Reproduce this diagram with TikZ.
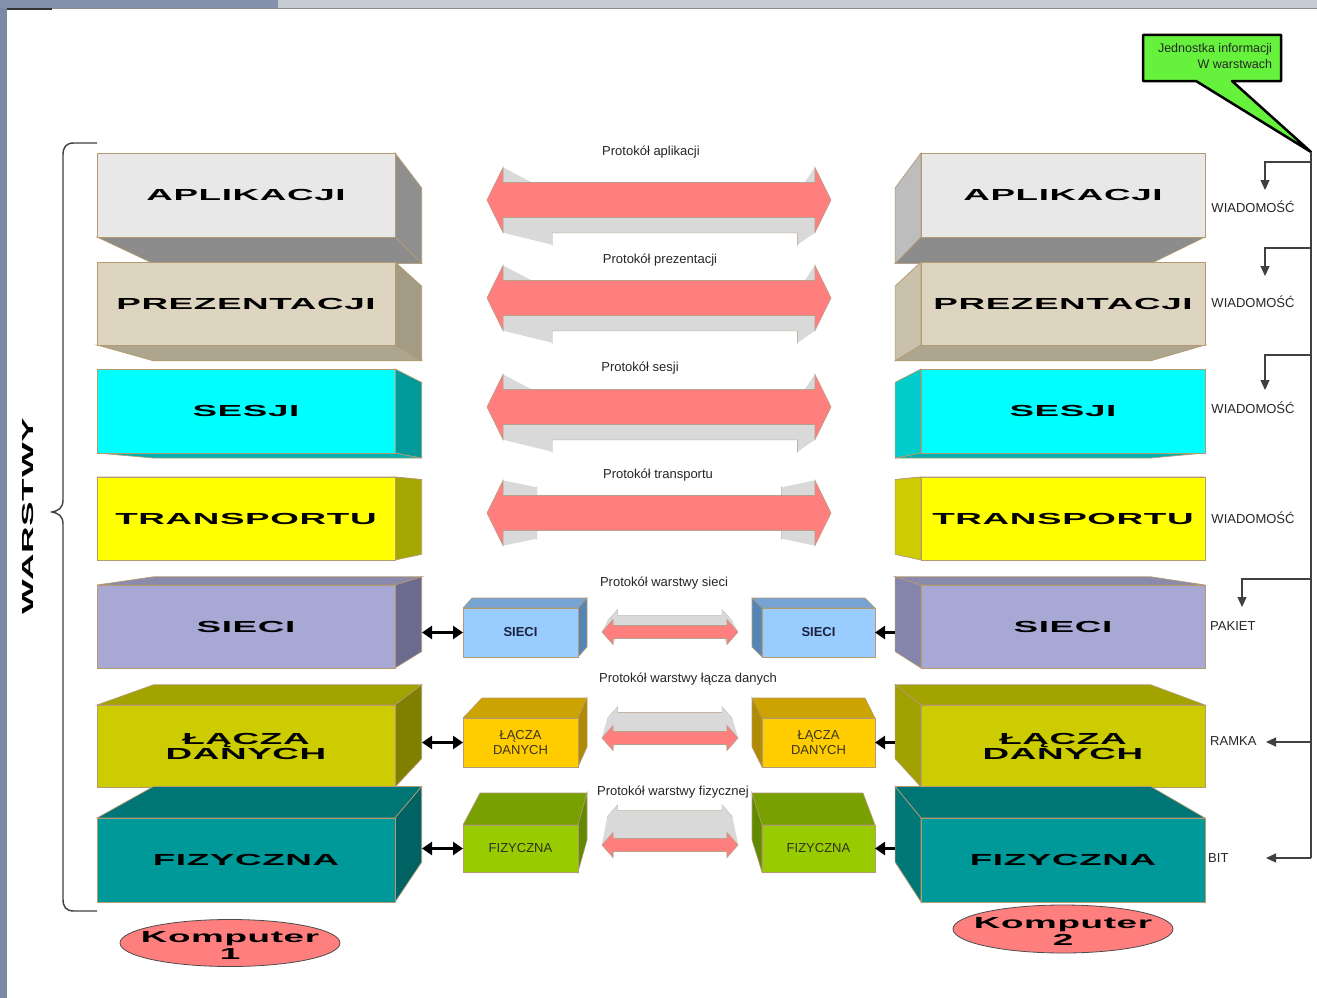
\documentclass[tikz,border=0pt]{standalone}
\usepackage{fontspec}
\setmainfont{Liberation Sans}
\newfontfamily\wfont[FakeStretch=2.3,LetterSpace=4]{Liberation Sans}
\usetikzlibrary{calc,arrows.meta,shapes.geometric}

\definecolor{edge}{HTML}{B49A70}
\definecolor{aplF}{HTML}{E8E8E8}\definecolor{aplS}{HTML}{8F8F8F}\definecolor{aplT}{HTML}{8C8C8C}\definecolor{aplS2}{HTML}{BDBDBD}
\definecolor{preF}{HTML}{DDD5C0}\definecolor{preS}{HTML}{A39B84}\definecolor{preT}{HTML}{ADA58E}\definecolor{preS2}{HTML}{C9C1AB}
\definecolor{sesF}{HTML}{00FFFF}\definecolor{sesS}{HTML}{009A9A}\definecolor{sesT}{HTML}{00AFAF}\definecolor{sesS2}{HTML}{00CCCC}
\definecolor{traF}{HTML}{FFFF00}\definecolor{traS}{HTML}{A6A600}\definecolor{traT}{HTML}{B8B800}\definecolor{traS2}{HTML}{CCCC00}
\definecolor{sieF}{HTML}{A8A8D4}\definecolor{sieS}{HTML}{6B6B8F}\definecolor{sieT}{HTML}{8A8AAC}\definecolor{sieS2}{HTML}{8484AC}
\definecolor{lacF}{HTML}{CCCC00}\definecolor{lacS}{HTML}{7F7F00}\definecolor{lacT}{HTML}{A3A300}\definecolor{lacS2}{HTML}{A0A000}
\definecolor{fizF}{HTML}{009999}\definecolor{fizS}{HTML}{006262}\definecolor{fizT}{HTML}{007575}\definecolor{fizS2}{HTML}{007878}
\definecolor{sblF}{HTML}{99CCFF}\definecolor{sblT}{HTML}{75A3D3}\definecolor{sblS}{HTML}{5585B5}\definecolor{sblX}{HTML}{1C2340}
\definecolor{sgoF}{HTML}{FFCC00}\definecolor{sgoT}{HTML}{CCA300}\definecolor{sgoS}{HTML}{B08A00}\definecolor{sgoX}{HTML}{3A3520}
\definecolor{sgrF}{HTML}{99CC00}\definecolor{sgrT}{HTML}{77A000}\definecolor{sgrS}{HTML}{628A00}\definecolor{sgrX}{HTML}{2E3318}
\definecolor{arrred}{HTML}{FF7F7F}\definecolor{arrback}{HTML}{D9D9D9}\definecolor{arredge}{HTML}{B8A08A}
\definecolor{kompc}{HTML}{FF7F7F}\definecolor{callg}{HTML}{66F23C}
\definecolor{scrL}{HTML}{7A89A6}\definecolor{scrT}{HTML}{8492AD}\definecolor{scrT2}{HTML}{C6CBD3}

% big layer, left computer (side face on the right)
\newcommand\layerL[5]{%
  \coordinate (#1-a) at (97,#2);
  \coordinate (#1-b) at (395,#2);
  \coordinate (#1-c) at (395,#3);
  \coordinate (#1-d) at (97,#3);
  \foreach \p/\q in {a/A,b/B,c/C,d/D}{\coordinate (#1-\q) at ($(vp)!0.9!(#1-\p)$);}
  \ifdim #3pt<503pt
    \filldraw[fill=#4T, draw=edge, line width=0.7pt] (#1-d) -- (#1-c) -- (#1-C) -- (#1-D) -- cycle;
  \else
    \filldraw[fill=#4T, draw=edge, line width=0.7pt] (#1-a) -- (#1-b) -- (#1-B) -- (#1-A) -- cycle;
  \fi
  \filldraw[fill=#4S, draw=edge, line width=0.7pt] (#1-b) -- (#1-B) -- (#1-C) -- (#1-c) -- cycle;
  \node[layer, fill=#4F, minimum width=298pt, minimum height={(#3-#2)*1pt}] (#1) at ($(#1-a)!0.5!(#1-c)$) {#5};
}
% big layer, right computer (side face on the left)
\newcommand\layerR[5]{%
  \coordinate (#1-a) at (921,#2);
  \coordinate (#1-b) at (1205,#2);
  \coordinate (#1-c) at (1205,#3);
  \coordinate (#1-d) at (921,#3);
  \foreach \p/\q in {a/A,b/B,c/C,d/D}{\coordinate (#1-\q) at ($(vp)!0.9!(#1-\p)$);}
  \ifdim #3pt<503pt
    \filldraw[fill=#4T, draw=edge, line width=0.7pt] (#1-d) -- (#1-c) -- (#1-C) -- (#1-D) -- cycle;
  \else
    \filldraw[fill=#4T, draw=edge, line width=0.7pt] (#1-a) -- (#1-b) -- (#1-B) -- (#1-A) -- cycle;
  \fi
  \filldraw[fill=#4S2, draw=edge, line width=0.7pt] (#1-a) -- (#1-A) -- (#1-D) -- (#1-d) -- cycle;
  \node[layer, fill=#4F, minimum width=284pt, minimum height={(#3-#2)*1pt}] (#1) at ($(#1-a)!0.5!(#1-c)$) {#5};
}
% small boxes
\newcommand\smboxL[7]{%
  \filldraw[fill=#6T, draw=edge, line width=0.6pt] (463,#2) -- (578,#2) -- (587,{#2-#5}) -- ({463+#4},{#2-#5}) -- cycle;
  \filldraw[fill=#6S, draw=edge, line width=0.6pt] (578,#2) -- (587,{#2-#5}) -- (587,{#3-#5}) -- (578,#3) -- cycle;
  \node[smallbox, fill=#6F, text=#6X, minimum width=115pt, minimum height={(#3-#2)*1pt}] (#1) at (520.5,{(#2+#3)/2}) {#7};
}
\newcommand\smboxR[7]{%
  \filldraw[fill=#6T, draw=edge, line width=0.6pt] (762,#2) -- (875,#2) -- ({875+#4},{#2-#5}) -- (752,{#2-#5}) -- cycle;
  \filldraw[fill=#6S, draw=edge, line width=0.6pt] (762,#2) -- (752,{#2-#5}) -- (752,{#3-#5}) -- (762,#3) -- cycle;
  \node[smallbox, fill=#6F, text=#6X, minimum width=113pt, minimum height={(#3-#2)*1pt}] (#1) at (818.5,{(#2+#3)/2}) {#7};
}
% extruded double arrow
\newcommand\extarrow[5]{%
  \coordinate (#1-f0) at (\aTL,#2);
  \coordinate (#1-f1) at (\aBL,{#2-\aHH});
  \coordinate (#1-f2) at (\aBL,{#2-\aSH});
  \coordinate (#1-f3) at (\aBR,{#2-\aSH});
  \coordinate (#1-f4) at (\aBR,{#2-\aHH});
  \coordinate (#1-f5) at (\aTR,#2);
  \coordinate (#1-f6) at (\aBR,{#2+\aHH});
  \coordinate (#1-f7) at (\aBR,{#2+\aSH});
  \coordinate (#1-f8) at (\aBL,{#2+\aSH});
  \coordinate (#1-f9) at (\aBL,{#2+\aHH});
  \coordinate (#1-vp) at (#3,#4);
  \foreach \i in {0,...,9}{\coordinate (#1-b\i) at ($(#1-vp)!#5!(#1-f\i)$);}
  \filldraw[fill=arrback, draw=arredge, line width=0.6pt] (#1-b0) \foreach \i in {1,...,9}{-- (#1-b\i)} -- cycle;
  \foreach \i in {0,...,9}{\pgfmathtruncatemacro\jj{mod(\i+1,10)}
    \fill[arrback] (#1-f\i) -- (#1-f\jj) -- (#1-b\jj) -- (#1-b\i) -- cycle;}
  \filldraw[fill=arrred, draw=arredge, line width=0.6pt] (#1-f0) \foreach \i in {1,...,9}{-- (#1-f\i)} -- cycle;
}

\begin{document}
\begin{tikzpicture}[x=1pt,y=-1pt,
  layer/.style={draw=edge, line width=0.7pt, inner sep=0pt, outer sep=0pt, align=center, text=black,
    font=\wfont\bfseries\fontsize{16}{15}\selectfont},
  smallbox/.style={draw=edge, line width=0.6pt, inner sep=0pt, outer sep=0pt, align=center,
    font=\fontsize{13}{15}\selectfont},
  plabel/.style={font=\fontsize{13}{15}\selectfont, text=black!85, inner sep=1pt},
  tree/.style={line width=1.2pt, draw=black!75},
  treearr/.style={tree, -{Triangle[length=10pt,width=9pt]}},
  dbl/.style={line width=3pt, {Triangle[length=10pt,width=13pt]}-{Triangle[length=10pt,width=13pt]}},
  sgl/.style={line width=3pt, -{Triangle[length=10pt,width=13pt]}},
  komp/.style={ellipse, fill=kompc, draw=black!70, line width=0.8pt, inner sep=0pt},
  komptext/.style={align=center, inner sep=0pt, font=\wfont\bfseries\fontsize{16}{17}\selectfont}]
\useasboundingbox (0,0) rectangle (1317,998);
\fill[white] (0,0) rectangle (1317,998);
% screen frame
\fill[scrL] (0,0) rectangle (7,998);
\fill[scrT] (0,0) rectangle (278,8);
\fill[scrT2] (278,0) rectangle (1317,8);
\draw[black!45, line width=1pt] (7,9) -- (1317,9);
\draw[black!80, line width=1.5pt] (7,9) -- (52,9);

\coordinate (vp) at (662,503);

% brace and title
\draw[black!75, line width=1.4pt] (97,143) -- (74,143) .. controls (66,143) and (63,147) .. (63,155) -- (63,500)
  .. controls (63,508) and (58,511) .. (52,512) .. controls (58,513) and (63,516) .. (63,524) -- (63,899)
  .. controls (63,907) and (66,911) .. (74,911) -- (97,911);
\node[rotate=90, font=\wfont\bfseries\fontsize{16}{16}\selectfont] (warstwy) at (28,516) {WARSTWY};

% left computer layers
\layerL{L1}{153}{237}{apl}{APLIKACJI}
\layerL{L2}{262}{345}{pre}{PREZENTACJI}
\layerL{L3}{369}{453}{ses}{SESJI}
\layerL{L4}{477}{560}{tra}{TRANSPORTU}
\layerL{L5}{585}{668}{sie}{SIECI}
\layerL{L6}{705}{787}{lac}{ŁĄCZA\\DANYCH}
\layerL{L7}{818}{902}{fiz}{FIZYCZNA}
% right computer layers
\layerR{R1}{153}{237}{apl}{APLIKACJI}
\layerR{R2}{262}{345}{pre}{PREZENTACJI}
\layerR{R3}{369}{453}{ses}{SESJI}
\layerR{R4}{477}{560}{tra}{TRANSPORTU}
\layerR{R5}{585}{668}{sie}{SIECI}
\layerR{R6}{705}{787}{lac}{ŁĄCZA\\DANYCH}
\layerR{R7}{818}{902}{fiz}{FIZYCZNA}

% small boxes
\smboxL{sL5}{608}{657}{9}{10}{sbl}{\textbf{SIECI}}
\smboxL{sL6}{718}{767}{19}{20}{sgo}{ŁĄCZA\\DANYCH}
\smboxL{sL7}{825}{872}{17}{32}{sgr}{FIZYCZNA}
\smboxR{sR5}{608}{657}{-10}{10}{sbl}{\textbf{SIECI}}
\smboxR{sR6}{718}{767}{-10}{20}{sgo}{ŁĄCZA\\DANYCH}
\smboxR{sR7}{825}{872}{-12}{32}{sgr}{FIZYCZNA}

% black connectors
\coordinate (L5p) at (422,632.5);
\coordinate (L6p) at (422,742.5);
\coordinate (L7p) at (422,848.5);
\coordinate (R5p) at (895,632.5);
\coordinate (R6p) at (895,742.5);
\coordinate (R7p) at (895,848.5);
\draw[dbl] (L5p) -- (sL5.west);
\draw[dbl] (L6p) -- (sL6.west);
\draw[dbl] (L7p) -- (sL7.west);
\draw[sgl] (R5p) -- (sR5.east);
\draw[sgl] (R6p) -- (sR6.east);
\draw[sgl] (R7p) -- (sR7.east);

% protocol arrows
\def\aTL{487}\def\aBL{503}\def\aBR{815}\def\aTR{831}\def\aHH{32.5}\def\aSH{17.5}
\extarrow{A1}{200}{733}{289}{0.787}
\extarrow{A2}{298}{733}{387}{0.787}
\extarrow{A3}{407}{733}{496}{0.787}
\extarrow{A4}{513}{660}{513}{0.785}
\def\aTL{602}\def\aBL{613}\def\aBR{727}\def\aTR{738}\def\aHH{12.5}\def\aSH{6.5}
\extarrow{A5}{632}{668}{503}{0.917}
\extarrow{A6}{738}{668}{503}{0.917}
\extarrow{A7}{845}{668}{503}{0.917}

% protocol labels
\node[plabel] (p1) at (651,152) {Protokół aplikacji};
\node[plabel] (p2) at (660,260) {Protokół prezentacji};
\node[plabel] (p3) at (640,368) {Protokół sesji};
\node[plabel] (p4) at (658,475) {Protokół transportu};
\node[plabel] (p5) at (664,583) {Protokół warstwy sieci};
\node[plabel] (p6) at (688,679) {Protokół warstwy łącza danych};
\node[plabel] (p7) at (673,792) {Protokół warstwy fizycznej};

% computers
\node[komp, minimum width=220pt, minimum height=47pt] (k1) at (230,943) {};
\node[komptext] (k1t) at (230,945) {Komputer\\1};
\node[komp, minimum width=220pt, minimum height=48pt] (k2) at (1063,929) {};
\node[komptext] (k2t) at (1063,931) {Komputer\\2};

% unit labels
\node[plabel] (w1) at (1253,207) {WIADOMOŚĆ};
\node[plabel] (w2) at (1253,302) {WIADOMOŚĆ};
\node[plabel] (w3) at (1253,408) {WIADOMOŚĆ};
\node[plabel] (w4) at (1253,518) {WIADOMOŚĆ};
\node[plabel, anchor=west] (pak) at (1209,626) {PAKIET};
\node[plabel, anchor=west] (ram) at (1209,741) {RAMKA};
\node[plabel, anchor=west] (bit) at (1207,858) {BIT};

% callout
\coordinate (tip) at (1311,152);
\filldraw[fill=callg, draw=black, line width=2.5pt, line join=round]
  (1143,35) -- (1281,35) -- (1281,81) -- (1232,81) -- (tip) -- (1196,81) -- (1143,81) -- cycle;
\node[align=right, text=black!85, font=\fontsize{12.5}{16}\selectfont, inner sep=0pt] (callout) at (1215,56)
  {Jednostka informacji\\W warstwach};

% unit tree
\coordinate (tb) at (1311,858);
\coordinate (j1) at (1311,162); \coordinate (e1) at (1265,190);
\coordinate (j2) at (1311,248); \coordinate (e2) at (1265,276);
\coordinate (j3) at (1311,355); \coordinate (e3) at (1265,390);
\coordinate (j4) at (1311,579); \coordinate (e4) at (1242,607);
\coordinate (j5) at (1311,742); \coordinate (e5) at (1266,742);
\coordinate (e6) at (1266,858);
\draw[tree] (tip) -- (tb);
\draw[treearr] (j1) -| (e1);
\draw[treearr] (j2) -| (e2);
\draw[treearr] (j3) -| (e3);
\draw[treearr] (j4) -| (e4);
\draw[treearr] (j5) -- (e5);
\draw[treearr] (tb) -- (e6);
\end{tikzpicture}
\end{document}
